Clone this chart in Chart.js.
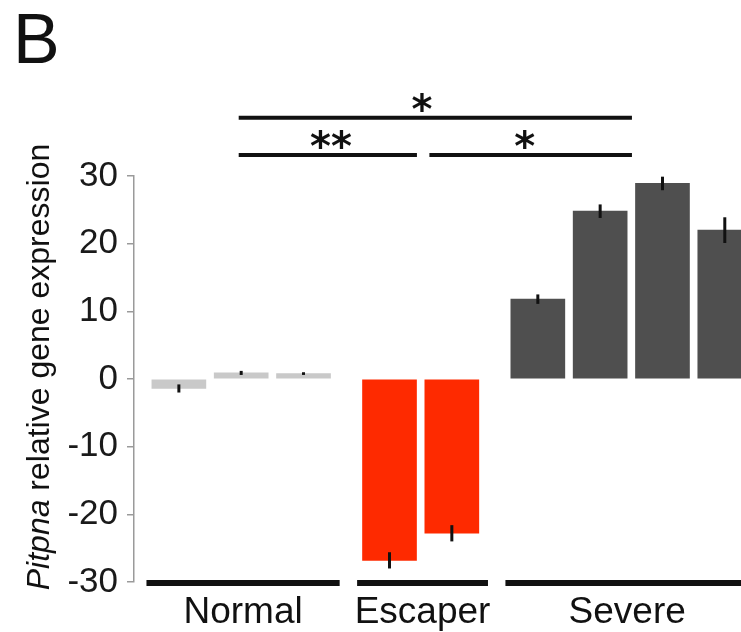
<!DOCTYPE html>
<html>
<head>
<meta charset="utf-8">
<script src="https://cdn.jsdelivr.net/npm/chart.js@4/dist/chart.umd.min.js"></script>
<style>
  html, body { margin: 0; padding: 0; background: #fff; }
  #wrap { width: 741px; height: 632px; }
</style>
</head>
<body>
<div id="wrap"><canvas id="chart" width="741" height="632"></canvas></div>
<script>
// values
const groupNames = ["Normal", "Escaper", "Severe"];
const normalValues = [-1.4, 0.9, 0.8];
const normalErrors = [0.6, 0.3, 0.2];
const escaperValues = [-26.8, -22.8];
const escaperErrors = [1.2, 1.2];
const severeValues = [11.8, 24.8, 28.9, 22.0];
const severeErrors = [0.7, 1.0, 1.0, 1.9];
const yTicks = [-30, -20, -10, 0, 10, 20, 30];

// significance annotations, in axis units
const sigBrackets = [
  { from: 0.96, to: 7.27, y: 38.6, label: "*", at: 3.9 },
  { from: 0.96, to: 3.82, y: 33.1, label: "**", at: 2.44 },
  { from: 4.02, to: 7.27, y: 33.1, label: "*", at: 5.55 },
];

const GROUP_GAP = 0.38;
const FONT = "'Liberation Sans', Arial, Helvetica, sans-serif";

const groups = [
  { values: normalValues, errors: normalErrors, color: "#c9c9c9" },
  { values: escaperValues, errors: escaperErrors, color: "#fe2a00" },
  { values: severeValues, errors: severeErrors, color: "#4f4f4f" },
];

let slot = 0;
const datasets = groups.map((g, gi) => ({
  label: groupNames[gi],
  data: g.values.map((v) => ({ x: slot++ + gi * GROUP_GAP, y: v })),
  errors: g.errors,
  backgroundColor: g.color,
  borderWidth: 0,
  barThickness: 54,
  grouped: false,
}));

const errorBarPlugin = {
  id: "error-bars",
  afterDatasetsDraw(chart) {
    const { ctx } = chart;
    const yScale = chart.scales.y;
    ctx.save();
    ctx.strokeStyle = "#111";
    ctx.lineWidth = 3;
    chart.data.datasets.forEach((ds, di) => {
      chart.getDatasetMeta(di).data.forEach((bar, i) => {
        const v = ds.data[i].y;
        const e = ds.errors[i];
        ctx.beginPath();
        ctx.moveTo(bar.x, yScale.getPixelForValue(v + e));
        ctx.lineTo(bar.x, yScale.getPixelForValue(v - e));
        ctx.stroke();
      });
    });
    ctx.restore();
  },
};

const decorPlugin = {
  id: "decor",
  afterDraw(chart) {
    const { ctx } = chart;
    const xs = chart.scales.x;
    const ys = chart.scales.y;
    ctx.save();
    ctx.fillStyle = "#111";
    ctx.strokeStyle = "#111";

    // panel letter
    ctx.font = `70px ${FONT}`;
    ctx.textAlign = "left";
    ctx.textBaseline = "alphabetic";
    ctx.fillText("B", 13, 63);

    // y axis title, italic gene name
    ctx.save();
    ctx.translate(49, 367);
    ctx.rotate(-Math.PI / 2);
    const italic = `italic 32px ${FONT}`;
    const upright = `32px ${FONT}`;
    ctx.font = italic;
    const w1 = ctx.measureText("Pitpna").width;
    ctx.font = upright;
    const w2 = ctx.measureText(" relative gene expression").width;
    let x0 = -(w1 + w2) / 2;
    ctx.font = italic;
    ctx.fillText("Pitpna", x0, 0);
    ctx.font = upright;
    ctx.fillText(" relative gene expression", x0 + w1, 0);
    ctx.restore();

    // group lines and labels under the bars
    const yBase = ys.getPixelForValue(-30);
    ctx.lineWidth = 6;
    ctx.font = `37px ${FONT}`;
    ctx.textAlign = "center";
    chart.data.datasets.forEach((ds) => {
      const first = ds.data[0].x;
      const last = ds.data[ds.data.length - 1].x;
      const left = xs.getPixelForValue(first - 0.52);
      const right = xs.getPixelForValue(last + 0.58);
      ctx.beginPath();
      ctx.moveTo(left, yBase + 1);
      ctx.lineTo(right, yBase + 1);
      ctx.stroke();
      const mid = (left + Math.min(right, chart.width + 8)) / 2;
      ctx.fillText(ds.label, mid, 623);
    });

    // significance brackets
    ctx.lineWidth = 4;
    ctx.font = `bold 40px 'DejaVu Sans', sans-serif`;
    sigBrackets.forEach((b) => {
      const y = ys.getPixelForValue(b.y);
      ctx.beginPath();
      ctx.moveTo(xs.getPixelForValue(b.from), y);
      ctx.lineTo(xs.getPixelForValue(b.to), y);
      ctx.stroke();
      ctx.fillText(b.label, xs.getPixelForValue(b.at), y - 17 + 22);
    });
    ctx.restore();
  },
};

new Chart(document.getElementById("chart"), {
  type: "bar",
  data: { datasets },
  options: {
    responsive: false,
    animation: false,
    devicePixelRatio: 1,
    layout: { padding: { top: 176, bottom: 50, left: 0, right: 0 } },
    plugins: {
      legend: { display: false },
      tooltip: { enabled: false },
    },
    scales: {
      x: {
        type: "linear",
        min: -0.72,
        max: 9.02,
        offset: false,
        display: false,
      },
      y: {
        min: -30,
        max: 30,
        afterBuildTicks(scale) {
          scale.ticks = yTicks.map((v) => ({ value: v }));
        },
        afterFit(scale) {
          scale.width = 134;
        },
        ticks: {
          font: { family: FONT, size: 35 },
          color: "#1a1a1a",
          padding: 9,
        },
        grid: {
          drawOnChartArea: false,
          drawTicks: true,
          tickLength: 7,
          color: "#9a9a9a",
          lineWidth: 1.5,
        },
        border: { color: "#9a9a9a", width: 1.5 },
      },
    },
  },
  plugins: [errorBarPlugin, decorPlugin],
});
</script>
</body>
</html>
